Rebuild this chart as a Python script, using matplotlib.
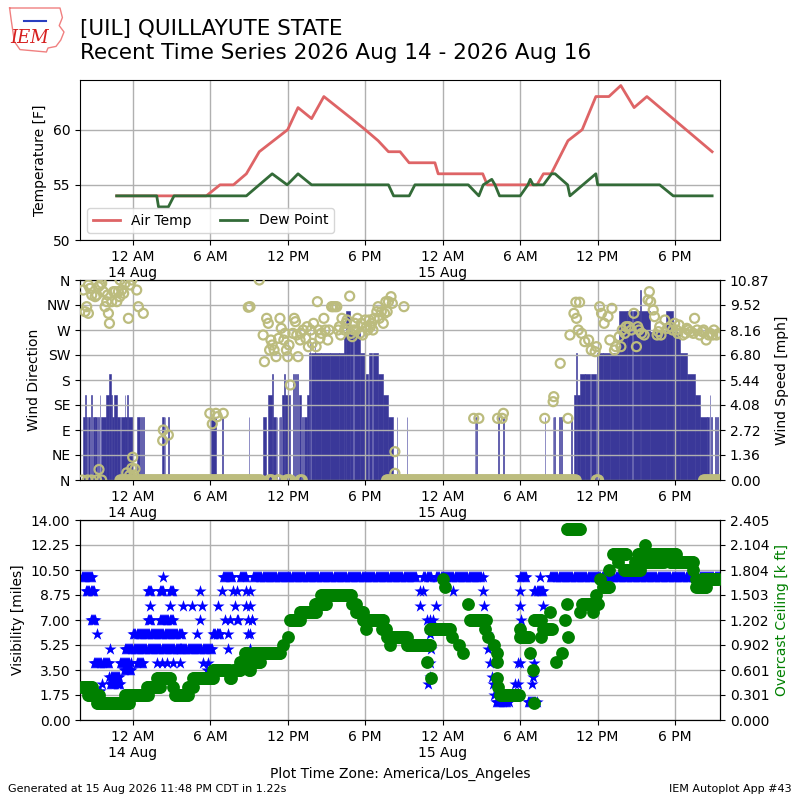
import numpy as np
import matplotlib
matplotlib.use("Agg")
import matplotlib.pyplot as plt
from matplotlib.lines import Line2D
from matplotlib.ticker import FixedLocator, FuncFormatter, FormatStrFormatter

KT2MPH = 1.15078

# all times are hours since 00:00 14 Aug 2026, America/Los_Angeles
temp_hr = [-1.24, 5.7, 6.76, 7.8, 8.8, 9.8, 10.9, 12.0, 12.8, 13.85, 14.8, 16.95, 18.0, 19.0,
           19.8, 20.7, 21.4, 23.4, 23.65, 27.1, 27.45, 31.3, 31.8, 32.4, 33.7, 34.8, 35.86,
           36.87, 37.79, 38.82, 39.81, 44.86]
temp_f = [54, 54, 55, 55, 56, 58, 59, 60, 62, 61, 63, 61, 60, 59,
          58, 58, 57, 57, 56, 56, 55, 55, 56, 56, 59, 60, 63,
          63, 64, 62, 63, 58]
dwpt_hr = [-1.24, 1.86, 2.0, 2.76, 3.2, 8.8, 9.8, 10.8, 11.96, 12.8, 13.85, 19.8, 20.2, 21.41,
           21.85, 25.98, 26.8, 27.14, 27.8, 28.05, 28.4, 30.0, 30.6, 30.78, 31.0, 31.8, 32.43,
           32.7, 33.67, 33.85, 35.86, 36.0, 40.8, 41.85, 44.86]
dwpt_f = [54, 54, 53, 53, 54, 54, 55, 56, 55, 56, 55, 55, 54, 54,
          55, 55, 54, 55, 55.5, 55, 54, 54, 55, 55.5, 55, 55, 56,
          56, 55, 54, 56, 55, 55, 54, 54]

# wind speed runs: start hour, end hour, knots
wind_t0 = [-3.88, -3.66, -3.58, -3.45, -3.20, -3.10, -2.90, -2.72, -2.56, -2.45, -2.08, -1.82,
           -1.70, -1.62, -1.42, -1.24, -0.92, -0.62, -0.56, -0.46, -0.36, 0.33, 0.67, 0.80,
           2.27, 2.48, 2.74, 5.95, 6.10, 6.95, 9.00, 10.06, 10.50, 10.78, 10.83, 11.14, 11.30,
           11.42, 11.53, 11.72, 11.80, 12.43, 12.55, 12.70, 12.85, 13.08, 13.25, 13.52, 13.65,
           13.70, 13.77, 14.08, 14.14, 14.60, 15.30, 15.95, 16.38, 16.55, 16.82, 17.12, 17.60,
           17.98, 18.30, 18.60, 19.01, 19.40, 19.78, 20.43, 21.20, 26.48, 26.58, 28.30, 28.68,
           31.91, 32.53, 32.65, 33.00, 33.15, 33.96, 34.16, 34.34, 34.38, 34.60, 35.05, 35.45,
           35.96, 36.45, 36.94, 37.66, 38.30, 38.70, 39.30, 39.35, 40.04, 41.30, 41.84, 42.40,
           42.88, 43.52, 43.91, 44.50, 44.66, 44.75, 45.10, 45.25]
wind_t1 = [-3.66, -3.61, -3.52, -3.28, -3.14, -2.95, -2.78, -2.60, -2.50, -2.08, -1.82, -1.70,
           -1.62, -1.42, -1.24, -0.95, -0.62, -0.56, -0.46, -0.40, 0.05, 0.58, 0.71, 0.84,
           2.40, 2.52, 2.78, 6.00, 6.45, 6.99, 9.04, 10.32, 10.78, 10.83, 11.09, 11.20, 11.35,
           11.50, 11.72, 11.77, 12.18, 12.50, 12.62, 12.80, 13.00, 13.20, 13.47, 13.65, 13.70,
           13.75, 14.08, 14.12, 14.55, 15.25, 15.95, 16.38, 16.55, 16.82, 17.08, 17.60, 17.98,
           18.25, 18.55, 19.01, 19.40, 19.78, 20.17, 20.47, 21.24, 26.52, 26.62, 28.34, 28.72,
           31.95, 32.57, 32.70, 33.05, 33.22, 34.00, 34.34, 34.38, 34.60, 35.00, 35.40, 35.90,
           36.40, 36.94, 37.66, 38.25, 38.65, 39.30, 39.35, 40.04, 41.30, 41.84, 42.40, 42.88,
           43.52, 43.91, 44.43, 44.60, 44.70, 44.85, 45.15, 45.30]
wind_kt = [3, 4, 3, 3, 4, 3, 3, 3, 4, 3, 4, 5,
           4, 3, 4, 3, 3, 4, 3, 4, 3, 3, 3, 3,
           3, 3, 3, 3, 3, 3, 3, 3, 4, 5, 3, 3, 3,
           3, 4, 5, 4, 5, 5, 5, 4, 3, 3, 4, 6,
           7, 6, 7, 6, 6, 6, 6, 7, 8, 7, 7, 6,
           5, 6, 6, 5, 4, 3, 3, 3, 3, 3, 3, 3,
           3, 3, 3, 3, 3, 3, 4, 6, 4, 5, 5, 5,
           6, 6, 6, 8, 8, 8, 9, 8, 7, 8, 7, 6,
           5, 4, 3, 3, 4, 3, 3, 3]

# wind direction observations (deg)
drct_hr = [-3.9, -3.5, -3.2, -2.8, -2.4,
           -3.82, -3.69, -3.56, -3.43, -3.43, -3.3, -3.17, -2.91, -2.78, -2.65, -2.53, -2.40,
           -2.27, -2.14, -2.01, -1.95, -1.88, -1.80, -1.62, -1.49, -1.36, -1.23, -1.11, -1.0,
           -0.98, -0.85, -0.7, -0.59, -0.33, -0.20, -0.07, 0.31, 0.44, 0.82,
           -2.61, -0.46, -0.25, -0.07, 0.0, 0.1, 0.18,
           2.32, 2.37, 2.76, 5.97, 6.16, 6.44, 6.55, 7.01, 8.95, 9.8,
           9.08, 10.1, 10.2, 10.37, 10.5, 10.6, 10.7, 10.8, 10.95, 11.1, 11.3, 11.4, 11.5,
           11.7, 11.8, 11.9, 12.0, 12.1, 12.2, 12.4, 12.5, 12.6, 12.7, 12.8, 12.96, 13.0,
           13.2, 13.4, 13.5, 13.6, 13.8, 13.9, 14.0, 14.2, 14.3, 14.4, 14.5, 14.6, 14.8,
           14.9, 15.1, 15.2, 15.4, 15.5, 15.65, 15.8, 15.9, 16.0, 16.1, 16.2, 16.4, 16.5,
           16.6, 16.8, 16.9, 17.0, 17.1, 17.2, 17.3, 17.4, 17.6, 17.7, 17.8, 18.0, 18.1,
           18.2, 18.3, 18.4, 18.5, 18.6, 18.7, 18.9, 19.0, 19.1, 19.25, 19.4, 19.5, 19.6,
           19.7, 19.8, 20.0, 20.1, 20.3, 20.3, 21.0,
           26.4, 26.8, 28.25, 28.6, 28.7,
           31.9, 32.55, 32.6, 33.1, 33.7, 33.85, 34.16, 34.31, 34.36, 34.5, 34.6, 34.75,
           35.0, 35.3, 35.5, 35.8, 35.9, 36.15, 36.3, 36.5, 36.8, 36.94, 37.1, 37.3, 37.4,
           37.66, 37.8, 37.9, 38.1, 38.2, 38.4, 38.6, 38.8, 39.0, 39.1, 39.2, 39.4, 39.6,
           39.9, 40.0, 40.1, 40.3, 40.4, 40.6, 40.7, 40.8, 40.9, 41.2, 41.4, 41.6, 41.8,
           41.96, 42.1, 42.2, 42.3, 42.6, 42.8, 42.9, 43.0, 43.2, 43.4, 43.5, 43.7, 43.9,
           44.1, 44.2, 44.4, 44.6, 44.7, 44.9, 45.0, 45.2, 45.4]
drct_deg = [0, 0, 0, 0, 0,
            342, 303, 312, 300, 351, 345, 333, 330, 333, 348, 351, 354,
            339, 312, 321, 333, 300, 282, 321, 339, 339, 321, 339, 330,
            360, 342, 336, 354, 291, 351, 360, 342, 312, 300,
            19, 13, 8, 21, 41, 9, 20,
            71, 90, 81, 120, 101, 120, 114, 120, 311, 360,
            312, 261, 213, 291, 282, 234, 252, 243, 234, 222, 255, 291, 273,
            252, 264, 234, 222, 243, 171, 264, 291, 285, 261, 222, 252, 264,
            270, 255, 276, 240, 270, 246, 282, 240, 321, 270, 255, 264, 291,
            270, 252, 270, 312, 312, 312, 312, 270, 276, 261, 291, 270, 282,
            288, 331, 264, 258, 270, 282, 270, 291, 264, 282, 261, 288, 276,
            270, 288, 276, 282, 270, 291, 303, 312, 291, 303, 282, 300, 321,
            303, 321, 330, 318, 51, 12, 312,
            111, 111, 111, 111, 120,
            111, 141, 150, 210, 111, 261, 300, 320, 291, 270, 320, 264,
            249, 252, 234, 231, 240, 312, 300, 282, 294, 252, 309, 234, 240,
            258, 240, 270, 264, 276, 276, 270, 300, 240, 276, 270, 264, 261,
            324, 339, 321, 306, 294, 261, 267, 276, 261, 288, 273, 276, 270,
            282, 270, 264, 279, 261, 264, 273, 270, 267, 264, 291, 270, 261,
            267, 270, 252, 261, 264, 261, 270, 261, 264]
# calm periods, direction reported as 0
calm_t0 = [-0.98, 10.55, 11.2, 11.9, 12.96, 19.66, 35.9, 44.2]
calm_t1 = [10.0, 10.85, 11.4, 12.3, 13.2, 34.4, 36.1, 45.5]

# visibility runs: start hour, end hour, miles (single reports have start == end)
vis_t0 = [-3.95, -3.6, -3.25, -2.8, -3.0, -2.6, -2.35, -1.75, -1.8, -1.75, -1.0, -0.7, -0.6,
          0.05, 0.3, 1.2, 2.1, 1.34, 2.89, 1.2, 2.1, 2.9, 2.32, 1.86, 2.25, 2.64, 3.15, 3.66,
          3.66, 3.92, 4.56, 4.95, 5.2, 5.34, 5.2, 5.47, 5.73, 5.86, 6.24, 6.63, 6.5, 6.89,
          6.97, 7.15, 7.4, 7.4, 7.53, 7.8, 7.92, 8.05, 8.1, 8.3, 8.8, 8.8, 8.95, 8.95, 9.2,
          9.1, 9.1, 9.2, 9.1, 9.1, 9.3, 22.24, 22.5, 22.24, 23.5, 22.76, 23.0, 23.25, 23.0,
          23.1, 23.0, 23.0, 22.9, 22.5, 23.5, 24.8, 27.1, 27.2, 27.3, 27.4, 27.5, 27.65, 27.8,
          27.9, 28.0, 28.1, 29.6, 29.8, 30.0, 30.0, 29.8, 29.98, 30.05, 30.1, 30.0, 31.1,
          31.0, 30.6, 30.9, 31.5, 31.1, 31.8, 31.4, 32.3]
vis_t1 = [-3.05, -3.0, -2.85, -2.8, -1.8, -2.5, -2.35, -1.75, -1.0, -1.0, -0.1, -0.1, 3.8,
          3.8, 0.8, 1.5, 3.1, 1.34, 2.89, 1.45, 2.35, 3.15, 2.32, 1.86, 2.25, 2.64, 3.15, 3.66,
          6.24, 3.92, 4.56, 4.95, 5.2, 5.34, 5.2, 5.47, 5.73, 5.86, 6.76, 6.63, 6.5, 6.89,
          7.8, 7.15, 7.4, 7.4, 7.53, 7.8, 7.92, 8.05, 8.2, 8.8, 8.8, 8.8, 8.95, 8.95, 9.2,
          9.1, 9.1, 9.2, 9.1, 9.1, 22.0, 22.24, 22.5, 22.24, 23.5, 22.76, 23.0, 23.25, 23.0,
          23.1, 23.0, 23.0, 22.9, 23.1, 27.1, 24.8, 27.1, 27.2, 27.3, 27.4, 27.5, 27.65, 27.8,
          27.9, 28.0, 29.1, 29.6, 29.8, 30.0, 30.0, 29.8, 30.5, 30.05, 30.1, 30.0, 31.1,
          31.0, 31.3, 30.9, 31.5, 31.8, 31.8, 31.4, 45.5]
vis_mi = [10, 9, 7, 6, 4, 2, 2.5, 5, 3, 2.5, 4, 3.5, 5,
          6, 4, 7, 7, 8, 8, 9, 9, 9, 10, 4, 4, 4, 4, 4,
          5, 8, 8, 6, 9, 8, 7, 4, 3.5, 4, 6, 8, 6, 9,
          10, 7, 6, 5, 7, 9, 8, 9, 7, 10, 9, 8, 6, 7, 7,
          9, 8, 7, 6, 5, 10, 9, 9, 8, 8, 7, 7, 7, 6,
          5, 4, 3, 2.5, 10, 10, 9, 9, 8, 7, 6, 5, 4, 3,
          2.5, 1.75, 1.25, 2.5, 2.5, 8, 9, 4, 10, 7, 6, 4, 4,
          3, 1.25, 2.5, 10, 9, 8, 7, 10]

# overcast ceiling runs: start hour, end hour, thousands of feet
ceil_t0 = [-3.95, -3.44, -2.79, -0.6, 1.08, 1.86, 3.15, 3.27, 4.3, 4.7, 6.24, 7.5, 7.8, 8.3,
           8.7, 9.0, 9.2, 9.3, 11.6, 12.04, 12.2, 12.95, 14.1, 14.6, 17.0, 17.3, 17.8, 18.1,
           19.3, 19.7, 19.9, 21.2, 22.76, 23.1, 23.0, 24.05, 24.2, 24.7, 25.3, 25.6, 25.98,
           26.1, 27.3, 27.5, 28.0, 28.2, 28.2, 28.2, 28.3, 28.4, 29.98, 30.0, 30.75, 31.0,
           31.1, 31.1, 31.6, 31.8, 32.3, 32.5, 32.8, 33.2, 33.45, 33.6, 33.7, 33.6, 34.6,
           34.75, 35.65, 35.9, 36.2, 36.4, 36.9, 37.2, 37.6, 38.0, 38.9, 39.1, 39.7, 39.6,
           40.1, 41.6, 43.4, 43.65, 43.65, 44.1]
ceil_t1 = [-3.05, -2.53, -0.21, 1.22, 2.11, 2.89, 3.15, 4.3, 4.7, 6.2, 7.5, 7.6, 8.3, 8.9,
           8.9, 9.1, 9.9, 11.4, 11.6, 12.04, 12.95, 14.2, 15.0, 17.0, 17.3, 17.8, 19.4, 18.1,
           19.7, 21.2, 19.9, 23.1, 22.76, 23.1, 24.6, 24.05, 24.2, 24.7, 25.3, 25.6, 25.98,
           27.4, 27.3, 27.5, 28.0, 28.2, 28.2, 28.2, 28.3, 29.97, 29.98, 30.7, 30.75, 31.0,
           31.1, 31.65, 31.6, 32.3, 32.3, 32.5, 32.8, 33.2, 33.45, 33.6, 33.7, 34.6, 34.6,
           36.04, 35.65, 35.9, 36.2, 36.9, 36.9, 38.2, 37.6, 39.3, 38.9, 39.6, 39.7, 41.1,
           42.1, 43.4, 43.4, 43.65, 44.4, 45.4]
ceil_kft = [0.4, 0.3, 0.2, 0.3, 0.4, 0.5, 0.4, 0.3, 0.4, 0.5, 0.6, 0.5, 0.6, 0.7,
            0.8, 0.6, 0.7, 0.8, 0.9, 1.0, 1.2, 1.3, 1.4, 1.5, 1.4, 1.3, 1.2, 1.1,
            1.1, 1.0, 0.9, 0.9, 0.7, 0.5, 1.1, 1.7, 1.6, 1.0, 0.9, 0.8, 1.4,
            1.2, 1.1, 1.0, 0.9, 0.8, 0.7, 0.5, 0.4, 0.3, 1.1, 1.0, 0.8, 0.6,
            0.2, 1.2, 1.0, 1.1, 1.3, 1.1, 0.7, 0.8, 1.2, 1.4, 1.0, 2.3, 1.3,
            1.4, 1.3, 1.5, 1.7, 1.6, 1.8, 2.0, 1.9, 1.8, 1.9, 2.0, 2.1, 1.9,
            2.0, 1.9, 1.8, 1.7, 1.6, 1.7]

XMIN, XMAX = -4.08, 45.47
STEP = 1.0 / 12.0  # 5 minute reports


def expand_runs(t0s, t1s, vals):
    xs, ys = [], []
    for a, b, v in zip(t0s, t1s, vals):
        t = np.arange(a, b + 1e-6, STEP) if b > a else np.array([a])
        xs.append(t)
        ys.append(np.full(t.size, v, dtype=float))
    return np.concatenate(xs), np.concatenate(ys)


def time_label(h, pos=None):
    hod = int(round(h)) % 24
    day = 14 + int(round(h)) // 24
    txt = {0: "12 AM", 6: "6 AM", 12: "12 PM", 18: "6 PM"}.get(hod, "")
    if hod == 0:
        txt += f"\n{day} Aug"
    return txt


def setup_time_axis(ax):
    ax.set_xlim(XMIN, XMAX)
    ax.xaxis.set_major_locator(FixedLocator(np.arange(0, 46, 6)))
    ax.xaxis.set_major_formatter(FuncFormatter(time_label))
    ax.grid(True, color="#b0b0b0", linewidth=1)


fig = plt.figure(figsize=(8, 8), dpi=100)

# panel 1: temperature
ax1 = fig.add_axes([0.1, 0.7, 0.8, 0.2])
ax1.plot(temp_hr, temp_f, color="#de6466", lw=2, label="Air Temp")
ax1.plot(dwpt_hr, dwpt_f, color="#336b38", lw=2, label="Dew Point")
ax1.set_ylim(50, 64.5)
ax1.set_yticks([50, 55, 60])
ax1.set_ylabel("Temperature [F]")
setup_time_axis(ax1)
ax1.legend(loc="lower left", ncol=2)

# panel 2: wind
axw = fig.add_axes([0.1, 0.4, 0.8, 0.25])
axs = axw.twinx()
speed_max = max(wind_kt) * KT2MPH * 1.05
axs.bar(wind_t0, np.array(wind_kt) * KT2MPH, width=np.array(wind_t1) - np.array(wind_t0),
        align="edge", color="#3a3899", edgecolor="#3a3899", linewidth=0.4)
axs.set_ylim(0, speed_max)
axs.set_yticks(np.linspace(0, speed_max, 9))
axs.yaxis.set_major_formatter(FormatStrFormatter("%.2f"))
axs.set_ylabel("Wind Speed [mph]")
axw.set_zorder(axs.get_zorder() + 1)
axw.patch.set_visible(False)
calm_x, calm_y = expand_runs(calm_t0, calm_t1, [0] * len(calm_t0))
axw.scatter(np.concatenate([drct_hr, calm_x]), np.concatenate([drct_deg, calm_y]),
            s=42, facecolors="none", edgecolors="#bcbc7e", linewidths=1.6, zorder=3)
axw.set_ylim(0, 360)
axw.set_yticks(np.arange(0, 361, 45))
axw.set_yticklabels(["N", "NE", "E", "SE", "S", "SW", "W", "NW", "N"])
axw.set_ylabel("Wind Direction")
setup_time_axis(axw)

# panel 3: visibility and ceiling
axv = fig.add_axes([0.1, 0.1, 0.8, 0.25])
vx, vy = expand_runs(vis_t0, vis_t1, vis_mi)
axv.scatter(vx, vy, marker="*", s=85, color="blue", linewidths=0, zorder=3)
axv.set_ylim(0, 14)
axv.set_yticks(np.linspace(0, 14, 9))
axv.yaxis.set_major_formatter(FormatStrFormatter("%.2f"))
axv.set_ylabel("Visibility [miles]")
setup_time_axis(axv)
axc = axv.twinx()
cx, cy = expand_runs(ceil_t0, ceil_t1, ceil_kft)
axc.scatter(cx, cy, marker="o", s=85, color="green", linewidths=0, zorder=3)
axc.set_ylim(0, 2.405)
axc.set_yticks(np.linspace(0, 2.405, 9))
axc.yaxis.set_major_formatter(FormatStrFormatter("%.3f"))
axc.set_ylabel("Overcast Ceiling [k ft]", color="green")
axc.set_xlim(XMIN, XMAX)

# header
fig.text(0.1, 0.976, "[UIL] QUILLAYUTE STATE\nRecent Time Series 2026 Aug 14 - 2026 Aug 16",
         fontsize=15.5, va="top", ha="left", linespacing=1.25)
outline_x = [0.012, 0.075, 0.078, 0.074, 0.080, 0.076, 0.070, 0.060, 0.058, 0.025, 0.018,
             0.014, 0.012]
outline_y = [0.990, 0.990, 0.978, 0.968, 0.960, 0.950, 0.942, 0.940, 0.935, 0.938, 0.948,
             0.975, 0.990]
fig.add_artist(Line2D(outline_x, outline_y, transform=fig.transFigure,
                      color="#f08080", lw=1))
fig.add_artist(Line2D([0.030, 0.058], [0.974, 0.974], transform=fig.transFigure,
                      color="#2a3fc0", lw=1.5))
fig.text(0.037, 0.953, "IEM", color="#d62020", fontsize=13, style="italic",
         family="serif", ha="center", va="center")
fig.text(0.5, 0.0325, "Plot Time Zone: America/Los_Angeles", ha="center", va="center", fontsize=10)
fig.text(0.01, 0.01, "Generated at 15 Aug 2026 11:48 PM CDT in 1.22s", fontsize=8)
fig.text(0.99, 0.01, "IEM Autoplot App #43", fontsize=8, ha="right")

fig.savefig("out.png", dpi=100)
